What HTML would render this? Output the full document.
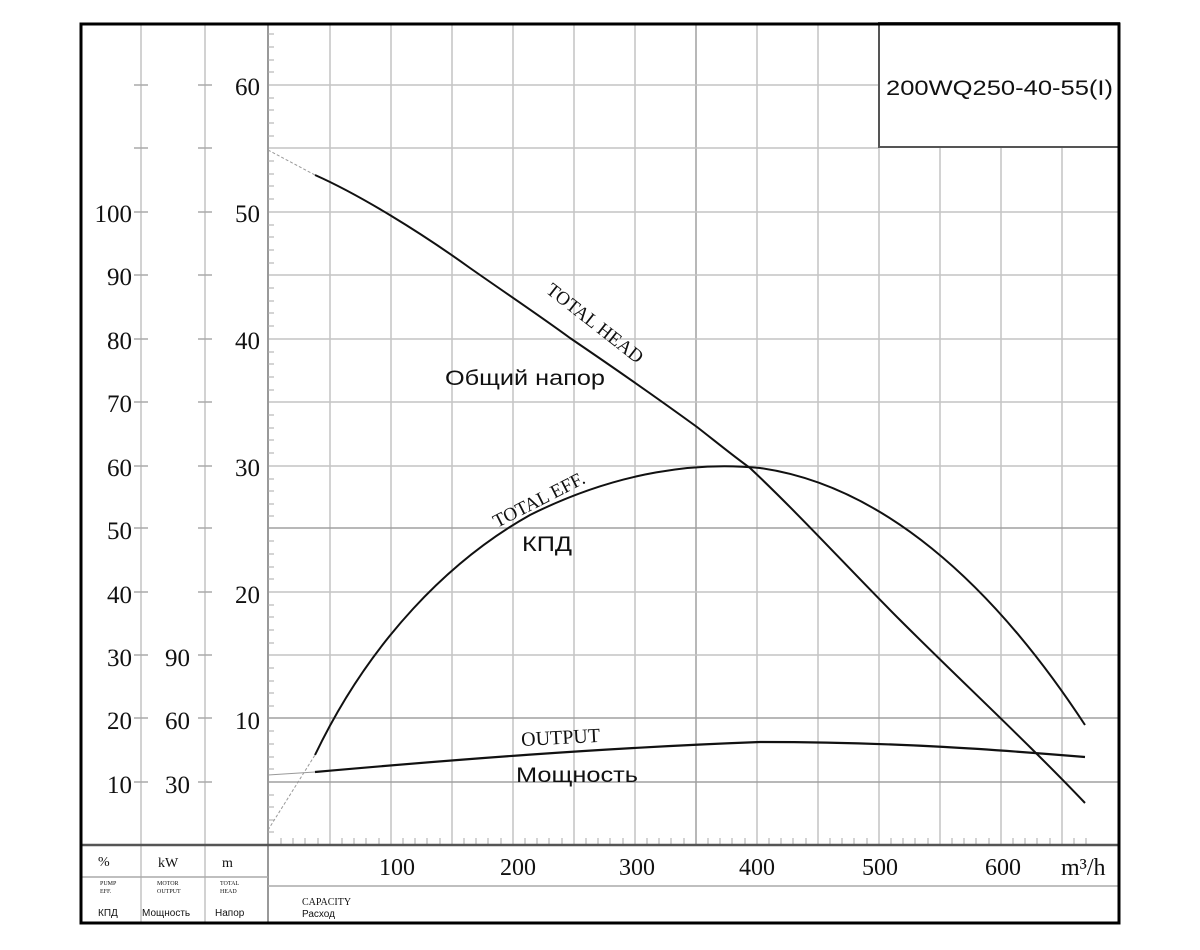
<!DOCTYPE html>
<html><head><meta charset="utf-8"><style>
body{margin:0;background:#fff;}
svg{display:block;}
.t{font-family:"Liberation Serif",serif;fill:#111;}
.s{font-family:"Liberation Sans",sans-serif;fill:#111;}
</style></head><body>
<svg width="1200" height="950" viewBox="0 0 1200 950" xmlns="http://www.w3.org/2000/svg">
<rect width="1200" height="950" fill="#fff"/>
<g stroke="#c4c4c4" stroke-width="1.5">
<line x1="330" y1="23" x2="330" y2="845"/><line x1="391" y1="23" x2="391" y2="845"/>
<line x1="452" y1="23" x2="452" y2="845"/><line x1="513" y1="23" x2="513" y2="845"/>
<line x1="574" y1="23" x2="574" y2="845"/><line x1="635" y1="23" x2="635" y2="845"/>
<line x1="696" y1="23" x2="696" y2="845" stroke="#a0a0a0"/><line x1="757" y1="23" x2="757" y2="845"/>
<line x1="818" y1="23" x2="818" y2="845"/><line x1="879" y1="147" x2="879" y2="845"/>
<line x1="940" y1="147" x2="940" y2="845"/><line x1="1001" y1="147" x2="1001" y2="845"/>
<line x1="1062" y1="147" x2="1062" y2="845"/>
<line x1="268" y1="85" x2="879" y2="85"/><line x1="268" y1="148" x2="879" y2="148"/>
<line x1="268" y1="212" x2="1119" y2="212"/><line x1="268" y1="275" x2="1119" y2="275"/>
<line x1="268" y1="339" x2="1119" y2="339"/><line x1="268" y1="402" x2="1119" y2="402"/>
<line x1="268" y1="466" x2="1119" y2="466"/><line x1="268" y1="528" x2="1119" y2="528" stroke="#a0a0a0"/>
<line x1="268" y1="592" x2="1119" y2="592"/><line x1="268" y1="655" x2="1119" y2="655"/>
<line x1="268" y1="718" x2="1119" y2="718" stroke="#a0a0a0"/><line x1="268" y1="782" x2="1119" y2="782" stroke="#a0a0a0"/>
<line x1="141" y1="23" x2="141" y2="923"/><line x1="205" y1="23" x2="205" y2="923"/>
<line x1="268" y1="23" x2="268" y2="923" stroke="#999" stroke-width="2"/>
</g>
<g stroke="#aaa" stroke-width="1.5">
<path d="M134 85h14M198 85h14M134 148h14M198 148h14M134 212h14M198 212h14M134 275h14M198 275h14M134 339h14M198 339h14M134 402h14M198 402h14M134 466h14M198 466h14M134 528h14M198 528h14M134 592h14M198 592h14M134 655h14M198 655h14M134 718h14M198 718h14M134 782h14M198 782h14"/>
</g>
<g stroke="#aaa" stroke-width="1">
<path d="M268 34h6M268 47h6M268 60h6M268 72h6M268 98h6M268 110h6M268 123h6M268 136h6M268 161h6M268 174h6M268 186h6M268 199h6M268 225h6M268 237h6M268 250h6M268 263h6M268 288h6M268 301h6M268 313h6M268 326h6M268 352h6M268 364h6M268 377h6M268 390h6M268 415h6M268 428h6M268 440h6M268 453h6M268 479h6M268 491h6M268 504h6M268 516h6M268 541h6M268 554h6M268 567h6M268 579h6M268 605h6M268 617h6M268 630h6M268 643h6M268 668h6M268 681h6M268 693h6M268 706h6M268 731h6M268 744h6M268 757h6M268 769h6M268 795h6M268 807h6M268 820h6M268 832h6"/>
<path d="M281 845v-7M293 845v-7M305 845v-7M318 845v-7M342 845v-7M354 845v-7M366 845v-7M379 845v-7M403 845v-7M415 845v-7M427 845v-7M440 845v-7M464 845v-7M476 845v-7M488 845v-7M501 845v-7M525 845v-7M537 845v-7M549 845v-7M562 845v-7M586 845v-7M598 845v-7M610 845v-7M623 845v-7M647 845v-7M659 845v-7M671 845v-7M684 845v-7M708 845v-7M720 845v-7M732 845v-7M745 845v-7M769 845v-7M781 845v-7M793 845v-7M806 845v-7M830 845v-7M842 845v-7M854 845v-7M867 845v-7M891 845v-7M903 845v-7M915 845v-7M928 845v-7M952 845v-7M964 845v-7M976 845v-7M989 845v-7M1013 845v-7M1025 845v-7M1037 845v-7M1050 845v-7M1074 845v-7M1086 845v-7"/>
</g>
<line x1="80" y1="845" x2="1119" y2="845" stroke="#555" stroke-width="2.5"/>
<g stroke="#aaa" stroke-width="1.5">
<line x1="80" y1="877" x2="268" y2="877"/><line x1="268" y1="886" x2="1119" y2="886"/>
</g>
<rect x="879" y="23" width="240" height="124" fill="#fff" stroke="#555" stroke-width="2"/>
<text class="s" x="886" y="95" font-size="21.5" textLength="227" lengthAdjust="spacingAndGlyphs">200WQ250-40-55(I)</text>
<rect x="81" y="24" width="1038" height="899" fill="none" stroke="#000" stroke-width="3"/>
<g class="t" font-size="25" text-anchor="end">
<text x="260" y="95">60</text><text x="260" y="222">50</text><text x="260" y="349">40</text>
<text x="260" y="476">30</text><text x="260" y="603">20</text><text x="260" y="729">10</text>
<text x="132" y="222">100</text><text x="132" y="285">90</text><text x="132" y="349">80</text>
<text x="132" y="412">70</text><text x="132" y="476">60</text><text x="132" y="539">50</text>
<text x="132" y="603">40</text><text x="132" y="666">30</text><text x="132" y="729">20</text>
<text x="132" y="793">10</text>
<text x="190" y="666">90</text><text x="190" y="729">60</text><text x="190" y="793">30</text>
</g>
<g class="t" font-size="24" text-anchor="middle">
<text x="397" y="875">100</text><text x="518" y="875">200</text><text x="637" y="875">300</text>
<text x="757" y="875">400</text><text x="880" y="875">500</text><text x="1003" y="875">600</text>
</g>
<text class="t" x="1061" y="875" font-size="24">m³/h</text>
<g class="t" font-size="14">
<text x="98" y="866">%</text><text x="158" y="867">kW</text><text x="222" y="867">m</text>
</g>
<g class="t" font-size="6">
<text x="100" y="885">PUMP</text><text x="100" y="893">EFF.</text>
<text x="157" y="885">MOTOR</text><text x="157" y="893">OUTPUT</text>
<text x="220" y="885">TOTAL</text><text x="220" y="893">HEAD</text>
</g>
<g class="s" font-size="10">
<text x="98" y="916">КПД</text><text x="142" y="916">Мощность</text><text x="215" y="916">Напор</text>
<text x="302" y="905" class="t">CAPACITY</text><text x="302" y="917">Расход</text>
</g>
<g fill="none" stroke="#111" stroke-linejoin="round">
<path d="M268 150 L315 175" stroke="#999" stroke-width="1" stroke-dasharray="3,2"/>
<path d="M315 175 C360 195 420 232 470 268 C510 296 540 316 570 338 C620 372 660 400 697 427 C715 441 732 455 750 468 C800 515 850 570 900 620 C960 680 1030 745 1085 803" stroke-width="2"/>
<path d="M268 830 L315 755" stroke="#999" stroke-width="1" stroke-dasharray="3,2"/>
<path d="M315 755 C370 640 450 560 530 515 C620 470 700 462 760 468 C880 485 990 580 1085 725" stroke-width="2"/>
<path d="M268 775 L315 772" stroke="#999" stroke-width="1"/>
<path d="M315 772 C450 760 600 748 760 742 C900 742 1000 750 1085 757" stroke-width="2.2"/>
</g>
<text class="t" font-size="19" transform="translate(545,292) rotate(38)">TOTAL  HEAD</text>
<text class="t" font-size="19" transform="translate(497,528) rotate(-27)">TOTAL  EFF.</text>
<text class="t" font-size="20" x="521" y="744" transform="rotate(-3 560 735)">OUTPUT</text>
<g class="s" font-size="21">
<text x="445" y="385" textLength="160" lengthAdjust="spacingAndGlyphs">Общий напор</text>
<text x="522" y="551" textLength="50" lengthAdjust="spacingAndGlyphs">КПД</text>
<text x="516" y="782" textLength="122" lengthAdjust="spacingAndGlyphs">Мощность</text>
</g>
</svg>
</body></html>
